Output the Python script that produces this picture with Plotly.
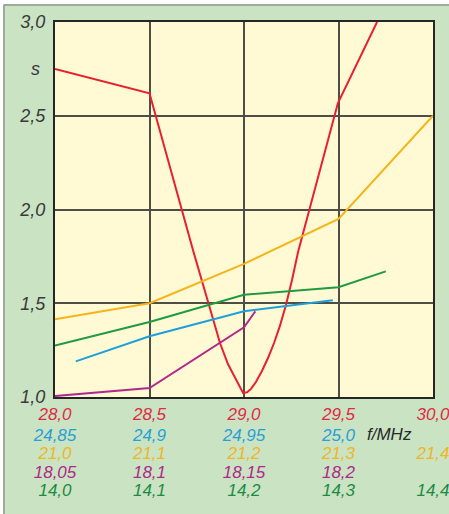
import plotly.graph_objects as go

W, H = 449, 514

# ---- data ----
# red: 28 MHz band (primary axis, MHz)
red_f = [28.0, 28.5, 28.73, 28.81, 28.873, 28.915, 28.952, 28.974, 28.995, 29.016, 29.037, 29.063,
         29.095, 29.127, 29.159, 29.19, 29.222, 29.254, 29.286, 29.497, 29.704]
red_s = [2.75, 2.62, 1.784, 1.501, 1.288, 1.176, 1.101, 1.059, 1.022, 1.025, 1.043, 1.08,
         1.139, 1.208, 1.288, 1.379, 1.491, 1.624, 1.773, 2.568, 3.0]
# blue: 24.9 MHz band
blue_f = [24.861, 24.9, 24.95, 24.997]
blue_s = [1.19, 1.324, 1.457, 1.516]
# yellow: 21 MHz band
yel_f = [21.0, 21.1, 21.2, 21.3, 21.4]
yel_s = [1.415, 1.50, 1.71, 1.95, 2.5]
# magenta: 18 MHz band
mag_f = [18.05, 18.1, 18.15, 18.156]
mag_s = [1.005, 1.048, 1.372, 1.457]
# green: 14 MHz band
grn_f = [14.0, 14.1, 14.2, 14.3, 14.35]
grn_s = [1.275, 1.40, 1.545, 1.585, 1.67]

red_ticks = [28.0, 28.5, 29.0, 29.5, 30.0]
red_text = ["28,0", "28,5", "29,0", "29,5", "30,0"]
blue_ticks = [24.85, 24.9, 24.95, 25.0]
blue_text = ["24,85", "24,9", "24,95", "25,0"]
yel_ticks = [21.0, 21.1, 21.2, 21.3, 21.4]
yel_text = ["21,0", "21,1", "21,2", "21,3", "21,4"]
mag_ticks = [18.05, 18.1, 18.15, 18.2]
mag_text = ["18,05", "18,1", "18,15", "18,2"]
grn_ticks = [14.0, 14.1, 14.2, 14.3, 14.4]
grn_text = ["14,0", "14,1", "14,2", "14,3", "14,4"]
y_ticks = [1.0, 1.5, 2.0, 2.5, 3.0]
y_text = ["1,0", "1,5", "2,0", "2,5", "3,0"]

C_RED = "#e8202e"
C_BLUE = "#1e9fdc"
C_YEL = "#f4b41a"
C_MAG = "#b4288c"
C_GRN = "#1f9a40"
L_RED = "#e02a44"
L_BLUE = "#2a9fd6"
L_YEL = "#efb626"
L_MAG = "#ae2a8a"
L_GRN = "#1e8a44"

FONT = "Liberation Sans"
FS = 17

fig = go.Figure()
fig.add_trace(go.Scatter(x=red_f, y=red_s, mode="lines", line=dict(color=C_RED, width=2), xaxis="x", yaxis="y"))
fig.add_trace(go.Scatter(x=blue_f, y=blue_s, mode="lines", line=dict(color=C_BLUE, width=2), xaxis="x2", yaxis="y"))
fig.add_trace(go.Scatter(x=yel_f, y=yel_s, mode="lines", line=dict(color=C_YEL, width=2), xaxis="x3", yaxis="y"))
fig.add_trace(go.Scatter(x=mag_f, y=mag_s, mode="lines", line=dict(color=C_MAG, width=2), xaxis="x4", yaxis="y"))
fig.add_trace(go.Scatter(x=grn_f, y=grn_s, mode="lines", line=dict(color=C_GRN, width=2), xaxis="x5", yaxis="y"))

xdom = [55 / W, 433 / W]
ydom = [(H - 397) / H, (H - 22) / H]


def py(px):
    return (H - px) / H


def overlay_axis(rng, ticks, text, color, pos):
    return dict(
        overlaying="x", anchor="free", position=pos, domain=xdom, range=rng,
        tickmode="array", tickvals=ticks, ticktext=text, showgrid=False,
        zeroline=False, showline=False, ticks="", automargin=False,
        ticklabeloverflow="allow",
        tickfont=dict(family=FONT, size=FS, color=color, style="italic"),
    )


fig.update_layout(
    width=W, height=H,
    margin=dict(l=0, r=0, t=0, b=0, pad=0, autoexpand=False),
    paper_bgcolor="#c9e3c3",
    plot_bgcolor="#fffad4",
    showlegend=False,
    xaxis=dict(
        domain=xdom, range=[28.0, 30.0], anchor="y",
        tickmode="array", tickvals=red_ticks, ticktext=red_text,
        showgrid=True, gridcolor="#4e4e46", gridwidth=1.5, zeroline=False,
        showline=True, mirror=True, linecolor="#262626", linewidth=2, ticks="",
        ticklabelstandoff=1, automargin=False, ticklabeloverflow="allow",
        tickfont=dict(family=FONT, size=FS, color=L_RED, style="italic"),
    ),
    xaxis2=overlay_axis([24.85, 25.05], blue_ticks, blue_text, L_BLUE, py(423)),
    xaxis3=overlay_axis([21.0, 21.4], yel_ticks, yel_text, L_YEL, py(441)),
    xaxis4=overlay_axis([18.05, 18.25], mag_ticks, mag_text, L_MAG, py(460)),
    xaxis5=overlay_axis([14.0, 14.4], grn_ticks, grn_text, L_GRN, py(478)),
    yaxis=dict(
        domain=ydom, range=[1.0, 3.0], anchor="x",
        tickmode="array", tickvals=y_ticks, ticktext=y_text,
        showgrid=True, gridcolor="#4e4e46", gridwidth=1.5, zeroline=False,
        showline=True, mirror=True, linecolor="#262626", linewidth=2, ticks="",
        ticklabelstandoff=4, automargin=False, ticklabeloverflow="allow",
        tickfont=dict(family=FONT, size=18, color="#3a3a3a", style="italic"),
    ),
    annotations=[
        dict(text="s", x=35 / W, y=2.75, xref="paper", yref="y", showarrow=False,
             font=dict(family=FONT, size=18, color="#3a3a3a", style="italic"),
             xanchor="center", yanchor="middle"),
        dict(text="f/MHz", x=365 / W, y=py(434), xref="paper", yref="paper", showarrow=False,
             font=dict(family=FONT, size=FS, color="#2a2a2a", style="italic"),
             xanchor="left", yanchor="middle"),
    ],
    shapes=[
        dict(type="rect", xref="paper", yref="paper", x0=0, x1=1, y0=py(4), y1=1,
             fillcolor="#ffffff", line=dict(width=0)),
        dict(type="rect", xref="paper", yref="paper", x0=0, x1=3 / W, y0=0, y1=1,
             fillcolor="#ffffff", line=dict(width=0)),
        dict(type="line", xref="paper", yref="paper", x0=4 / W, x1=1, y0=py(5), y1=py(5),
             line=dict(color="#8e9a8c", width=1.5)),
        dict(type="line", xref="paper", yref="paper", x0=4 / W, x1=4 / W, y0=0, y1=py(5),
             line=dict(color="#8e9a8c", width=1.5)),
    ],
)

fig.write_html("out.html", config={"displayModeBar": False},
               post_script="document.body.style.margin='0';")
